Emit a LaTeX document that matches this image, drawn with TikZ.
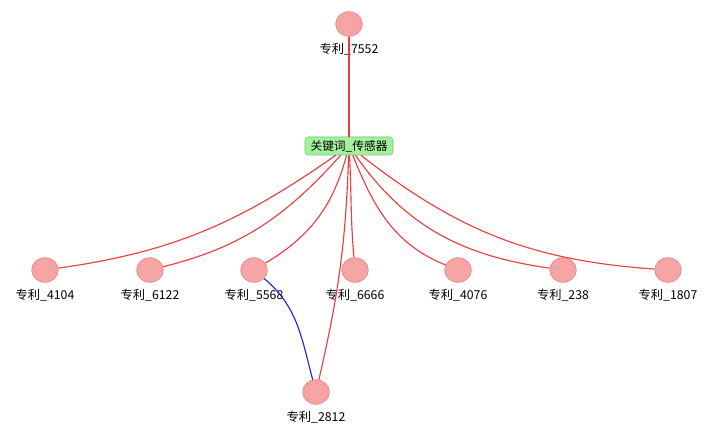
\documentclass[tikz,border=0pt]{standalone}
\usepackage{fontspec}
\setmainfont{Liberation Sans}
\newfontfamily\cjk{Noto Sans CJK SC}
\usetikzlibrary{positioning,shapes.geometric}
\definecolor{PatFill}{HTML}{F7A4A4}
\definecolor{PatLine}{HTML}{E07C7C}
\definecolor{KwFill}{HTML}{A4F09E}
\definecolor{KwLine}{HTML}{6CCB6C}
\definecolor{EdgeRed}{HTML}{F03C3C}
\definecolor{EdgeBlue}{HTML}{2424E0}

\begin{document}
\begin{tikzpicture}[x=0.75pt,y=-0.75pt,>=stealth,node distance=5pt]
    \tikzstyle{patent}=[draw=PatLine,fill=PatFill,ellipse,minimum width=20pt,
      minimum height=18.5pt,inner sep=0pt]
    \tikzstyle{patlbl}=[inner sep=0pt,font=\cjk\fontsize{9.2}{10}\selectfont]
    \tikzstyle{keyword}=[draw=KwLine,fill=KwFill,rounded corners=2.5pt,
      minimum width=66pt,minimum height=13.5pt,inner sep=1pt,
      font=\cjk\fontsize{8.8}{10}\selectfont]
    \tikzstyle{link}=[draw=EdgeRed,line width=0.85pt]
    \useasboundingbox (0,0) rectangle (712,434);
    \node[keyword] (kw) at (349,146) {关键词\_传感器};
    \node[patent] (p7552) at (349,24) {};
    \node[patent] (p4104) at (45,270) {};
    \node[patent] (p6122) at (150,270) {};
    \node[patent] (p5568) at (254,270) {};
    \node[patent] (p6666) at (355,270) {};
    \node[patent] (p4076) at (458,270) {};
    \node[patent] (p238) at (563,270) {};
    \node[patent] (p1807) at (668,270) {};
    \node[patent] (p2812) at (316,392) {};
    \node[patlbl,below=of p7552] (l7552) {专利\_7552};
    \node[patlbl,below=of p4104] (l4104) {专利\_4104};
    \node[patlbl,below=of p6122] (l6122) {专利\_6122};
    \node[patlbl,below=of p5568] (l5568) {专利\_5568};
    \node[patlbl,below=of p6666] (l6666) {专利\_6666};
    \node[patlbl,below=of p4076] (l4076) {专利\_4076};
    \node[patlbl,below=of p238] (l238) {专利\_238};
    \node[patlbl,below=of p1807] (l1807) {专利\_1807};
    \node[patlbl,below=of p2812] (l2812) {专利\_2812};
    % keyword links
    \draw[link] (p7552)--(kw);
    \draw[link] (kw) to[out=215,in=8] (p4104);
    \draw[link] (kw) to[out=228,in=14] (p6122);
    \draw[link] (kw) to[out=255,in=31] (p5568);
    \draw[link] (kw) to[out=273,in=95] (p6666);
    \draw[link] (kw) to[out=292,in=158] (p4076);
    \draw[link] (kw) to[out=305,in=172] (p238);
    \draw[link] (kw) to[out=322,in=176] (p1807);
    \draw[link] (kw) to[out=268,in=77] (p2812);
    % patent-patent link
    \draw[draw=EdgeBlue,line width=0.85pt] (p5568) to[out=-40,in=105] (p2812);
  \end{tikzpicture}
\end{document}
